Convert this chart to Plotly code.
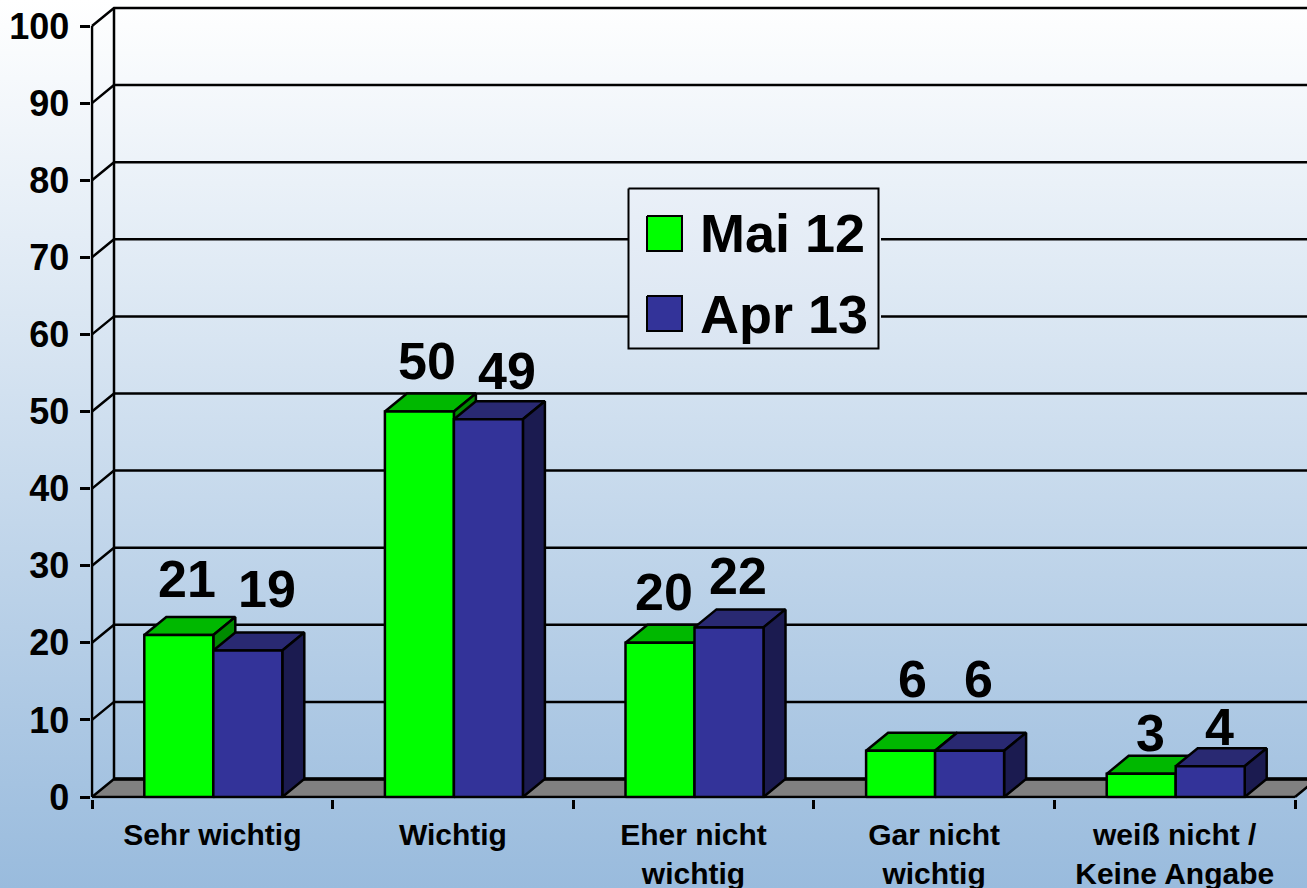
import plotly.graph_objects as go

# ---- data ----
categories = ["Sehr wichtig", "Wichtig", "Eher nicht<br>wichtig", "Gar nicht<br>wichtig", "weiß nicht /<br>Keine Angabe"]
mai_12 = [21, 50, 20, 6, 3]
apr_13 = [19, 49, 22, 6, 4]
series_names = ["Mai 12", "Apr 13"]
y_ticks = [0, 10, 20, 30, 40, 50, 60, 70, 80, 90, 100]

# ---- style ----
W, H = 1307, 888
X0, Y0 = 92, 797            # page pixel of axis origin
PX_CAT = 240.6              # pixels per category
PX_VAL = 7.71               # pixels per value unit
PAD = 1.5                   # room so that lines on the axes are not clipped (pixels)
DX = 22 / PX_CAT            # depth of the 3D look, in axis units
DY = 18 / PX_VAL
BAR_W = 69 / PX_CAT
CENTER_NUDGE = 1 / PX_CAT
FONT = "Liberation Sans"
LW = 2.5
series_styles = [
    dict(front="#00FF00", top="#00B800", side="#008A00"),
    dict(front="#333399", top="#292972", side="#1B1B50"),
]
# label nudges from the front-top centre of every bar (pixels)
label_dx = [[8.5, 19.5], [7.5, 18.5], [3.5, 8.5], [11.5, 8.5], [9.5, 9.5]]
label_dy = [[56, 61.5], [50.5, 48], [51, 51], [72, 72], [41, 39]]

x_max = (W - X0) / PX_CAT
y_max = Y0 / PX_VAL
n = len(categories)

fig = go.Figure()

# ---- page background on its own full-page axes ----
fig.add_trace(go.Scatter(
    x=[0, W, W, 0, 0], y=[0, 0, H, H, 0], mode="lines", fill="toself",
    line=dict(width=0), hoverinfo="skip", showlegend=False,
    fillgradient=dict(type="vertical", colorscale=[[0, "#FFFFFF"], [1, "#99BBDD"]], start=0, stop=H),
    xaxis="x", yaxis="y",
))


def chart_poly(xs, ys, fill=None, width=LW, color="#000000", name=None):
    fig.add_trace(go.Scatter(
        x=xs, y=ys, mode="lines", fill="toself" if fill else "none", fillcolor=fill,
        line=dict(color=color, width=width, shape="linear"), connectgaps=False,
        cliponaxis=False, hoverinfo="skip" if name is None else "name", name=name or "",
        showlegend=False, xaxis="x2", yaxis="y2",
    ))


# floor
chart_poly([0, DX, n + DX, n, 0], [0, DY, DY, 0, 0], fill="#808080", width=0)

# back wall: grid lines, their diagonals and the wall edge
gx, gy = [], []
for v in y_ticks:
    gx += [0, DX, x_max, None]
    gy += [v, v + DY, v + DY, None]
chart_poly(gx, gy, width=LW)
chart_poly([DX, DX], [DY, y_ticks[-1] + DY], width=LW)
chart_poly([0, 0], [0, y_ticks[-1]], width=LW)
chart_poly([DX, x_max], [DY, DY], width=3.5)
chart_poly([n, n + DX], [0, DY], width=LW)
chart_poly([0, n], [0, 0], width=LW)

# bars
for i in range(n):
    cx = i + 0.5 + CENTER_NUDGE
    for s, vals in enumerate([mai_12, apr_13]):
        v = vals[i]
        st = series_styles[s]
        l = cx + (s - 1) * BAR_W
        r = l + BAR_W
        chart_poly([l, l + DX, r + DX, r, l], [v, v + DY, v + DY, v, v], fill=st["top"])
        chart_poly([r, r + DX, r + DX, r, r], [0, DY, v + DY, v, 0], fill=st["side"])
        chart_poly([l, r, r, l, l], [0, 0, v, v, 0], fill=st["front"], name=series_names[s])
        fig.add_annotation(
            x=(l + r) / 2, y=v, xref="x2", yref="y2", text=f"<b>{v}</b>", showarrow=False,
            xanchor="center", yanchor="middle",
            xshift=label_dx[i][s], yshift=label_dy[i][s],
            font=dict(family=FONT, size=52, color="#000000"),
        )

# ---- legend on full-page overlay axes ----
fig.add_trace(go.Scatter(
    x=[628, 881, 881, 628, 628], y=[188, 188, 349, 349, 188], mode="lines", fill="toself",
    line=dict(width=0), hoverinfo="skip", showlegend=False,
    fillgradient=dict(type="vertical", colorscale=[[0, "#EAF0F8"], [1, "#DAE5F2"]], start=188, stop=349),
    xaxis="x3", yaxis="y3",
))
fig.add_trace(go.Scatter(
    x=[628.5, 878.5, 878.5, 628.5, 628.5], y=[188.5, 188.5, 348.5, 348.5, 188.5], mode="lines",
    line=dict(color="#000000", width=2), hoverinfo="skip", showlegend=False, xaxis="x3", yaxis="y3",
))
for s, (top, mid) in enumerate([(216, 233), (296, 314)]):
    fig.add_trace(go.Scatter(
        x=[647, 682, 682, 647, 647], y=[top, top, top + 35, top + 35, top], mode="lines", fill="toself",
        fillcolor=series_styles[s]["front"], line=dict(color="#000000", width=2),
        hoverinfo="skip", showlegend=False, xaxis="x3", yaxis="y3",
    ))
    fig.add_annotation(
        x=698, y=mid, xref="x3", yref="y3", text=f"<b>{series_names[s]}</b>", showarrow=False,
        xanchor="left", yanchor="middle", font=dict(family=FONT, size=54, color="#000000"),
    )

hidden = dict(visible=False, fixedrange=True, automargin=False)
fig.update_layout(
    width=W, height=H, autosize=False, margin=dict(l=0, r=0, t=0, b=0),
    paper_bgcolor="#FFFFFF", plot_bgcolor="rgba(0,0,0,0)", showlegend=False,
    font=dict(family=FONT, color="#000000"),
    xaxis=dict(domain=[0, 1], range=[0, W], **hidden),
    yaxis=dict(domain=[0, 1], range=[H, 0], **hidden),
    xaxis3=dict(domain=[0, 1], range=[0, W], anchor="y3", **hidden),
    yaxis3=dict(domain=[0, 1], range=[H, 0], anchor="x3", **hidden),
    xaxis2=dict(
        domain=[(X0 - PAD) / W, 1], range=[-PAD / PX_CAT, x_max], anchor="y2", fixedrange=True, showgrid=False,
        showline=False, zeroline=False, automargin=False,
        tickmode="array", tickvals=[i + 0.5 for i in range(n)], ticktext=[f"<b>{c}</b>" for c in categories],
        ticks="", ticklen=9, tickangle=0, ticklabelstandoff=15,
        tickfont=dict(family=FONT, size=30, color="#000000"),
        minor=dict(tickmode="array", tickvals=list(range(n + 1)), ticks="outside", ticklen=9, tickwidth=LW,
                   tickcolor="#000000", showgrid=False),
    ),
    yaxis2=dict(
        domain=[(H - Y0 - PAD) / H, 1], range=[-PAD / PX_VAL, y_max], anchor="x2", fixedrange=True, showgrid=False,
        showline=False, zeroline=False, automargin=False,
        tickmode="array", tickvals=y_ticks, ticktext=[f"<b>{v}</b>" for v in y_ticks],
        ticks="outside", ticklen=10, tickwidth=LW, tickcolor="#000000", ticklabelstandoff=3,
        tickfont=dict(family=FONT, size=36, color="#000000"),
    ),
)

fig.write_html(
    "out.html",
    config={"displayModeBar": False},
    post_script="document.body.style.margin='0';document.documentElement.style.overflow='hidden';",
)
